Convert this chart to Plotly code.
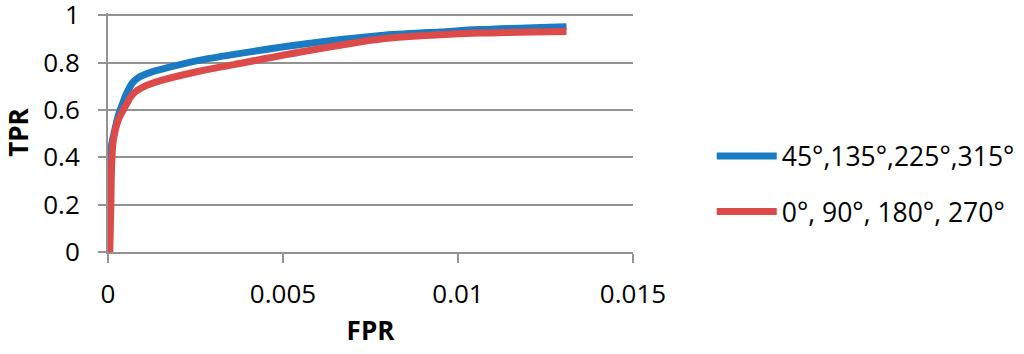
import plotly.graph_objects as go

# Blue series: 45°,135°,225°,315°
fpr_blue = [0.0, 0.00002, 0.00005, 0.0001, 0.0002, 0.0003, 0.0004, 0.0005, 0.0006, 0.0007,
            0.00085, 0.001, 0.0013, 0.0017, 0.0026, 0.0036, 0.0055, 0.0078, 0.0095, 0.0106, 0.0131]
tpr_blue = [0.0, 0.15, 0.35, 0.45, 0.52, 0.58, 0.62, 0.66, 0.69, 0.715,
            0.735, 0.747, 0.763, 0.779, 0.81, 0.835, 0.877, 0.915, 0.93, 0.94, 0.952]

# Red series: 0°, 90°, 180°, 270°
fpr_red = [0.00005, 0.00008, 0.0001, 0.00015, 0.0003, 0.00053, 0.00065, 0.00078, 0.001, 0.0015,
           0.0026, 0.0036, 0.0055, 0.0078, 0.0095, 0.0106, 0.0131]
tpr_red = [0.0, 0.18, 0.35, 0.47, 0.56, 0.625, 0.655, 0.677, 0.697, 0.724,
           0.764, 0.792, 0.845, 0.9, 0.918, 0.925, 0.932]

names = ["45°,135°,225°,315°", "0°, 90°, 180°, 270°"]
colors = ["#1B7BC2", "#DD4A4A"]

x_ticks = [0, 0.005, 0.01, 0.015]
x_tick_text = ["0", "0.005", "0.01", "0.015"]
y_ticks = [0, 0.2, 0.4, 0.6, 0.8, 1]
y_tick_text = ["0", "0.2", "0.4", "0.6", "0.8", "1"]

FONT = "Open Sans"
GRID = "#939393"

fig = go.Figure()
for xs, ys, nm, col, grp in [(fpr_blue, tpr_blue, names[0], colors[0], "a"),
                             (fpr_red, tpr_red, names[1], colors[1], "b")]:
    fig.add_trace(go.Scatter(x=xs, y=ys, mode="lines", name=nm, legendgroup=grp,
                             line=dict(color=col, width=7, shape="spline", smoothing=0.8)))

fig.update_layout(
    width=1024, height=354,
    margin=dict(l=108, r=391, t=12.6, b=101.5, pad=0, autoexpand=False),
    plot_bgcolor="white", paper_bgcolor="white",
    font=dict(family=FONT, size=26, color="black"),
    showlegend=True,
    legend=dict(x=1.15, y=0.285, xanchor="left", yanchor="middle",
                traceorder="grouped", tracegroupgap=18,
                font=dict(family=FONT, size=26.5, color="black"),
                itemwidth=60, bgcolor="rgba(0,0,0,0)"),
    xaxis=dict(range=[0, 0.015], tickvals=x_ticks, ticktext=x_tick_text,
               showgrid=False, zeroline=False, showline=True, linecolor=GRID, linewidth=2,
               ticks="outside", ticklen=9, tickwidth=2, tickcolor=GRID,
               ticklabelstandoff=9, automargin=False, ticklabeloverflow="allow",
               title=dict(text="<b>FPR</b>", font=dict(family=FONT, size=26), standoff=12)),
    yaxis=dict(range=[0, 1.01], tickvals=y_ticks, ticktext=y_tick_text,
               showgrid=True, gridcolor=GRID, gridwidth=2,
               zeroline=False, showline=True, linecolor=GRID, linewidth=2,
               ticks="outside", ticklen=8, tickwidth=2, tickcolor=GRID,
               ticklabelstandoff=13, automargin=False, ticklabeloverflow="allow",
               title=dict(text="<b>TPR</b>", font=dict(family=FONT, size=26), standoff=10)),
)

fig.write_html("out.html", post_script="document.body.style.margin='0';",
               config={"displayModeBar": False})
